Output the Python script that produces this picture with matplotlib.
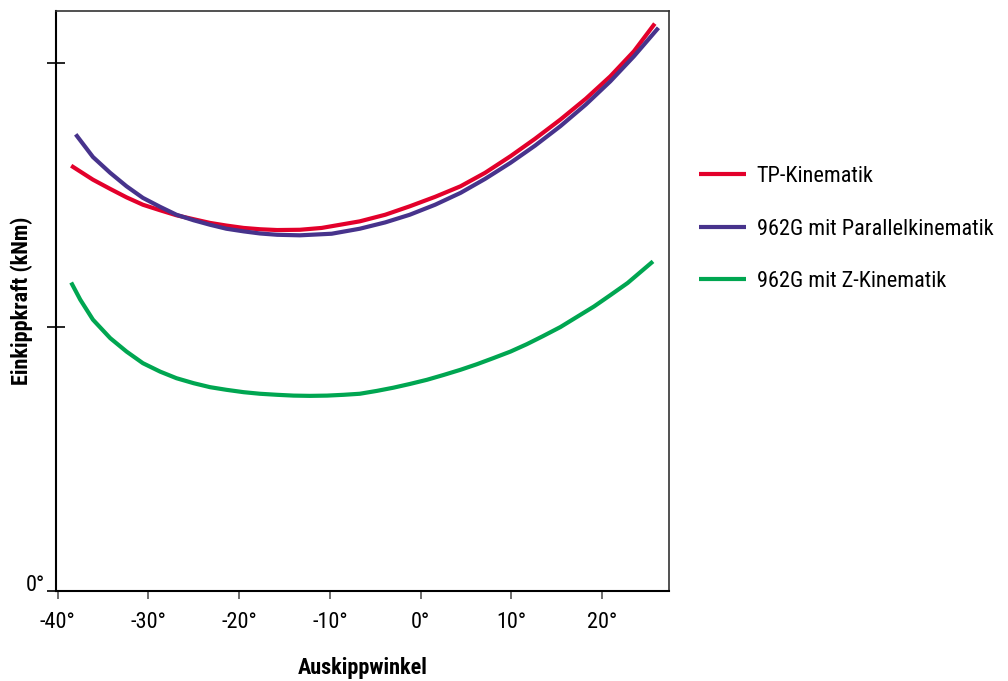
import matplotlib
matplotlib.use("Agg")
import matplotlib.pyplot as plt
from matplotlib import font_manager

# schmale Schrift suchen, wie im Original (Univers Condensed o.ae.)
installed = {}
for f in font_manager.fontManager.ttflist:
    installed.setdefault(f.name, set()).add(f.weight if isinstance(f.weight, int) else 400)
narrow = ['Roboto Condensed', 'Liberation Sans Narrow', 'Arial Narrow', 'Archivo Narrow',
          'PT Sans Narrow', 'Fira Sans Condensed', 'IBM Plex Sans Condensed',
          'Barlow Semi Condensed', 'Encode Sans Condensed', 'Asap Condensed',
          'Open Sans Condensed', 'Sofia Sans Condensed', 'Saira Condensed']
family = None
for n in narrow:
    if n in installed:
        family = n
        break
if family is None:
    family = 'DejaVu Sans'
    fs = 13.5
else:
    fs = 16
plt.rcParams['font.family'] = [family, 'DejaVu Sans']

# Werte (x: Auskippwinkel in Grad, y: Einkippkraft in Tick-Einheiten)
tp_x = [-38.5, -36.1, -34.2, -32.4, -30.6, -28.7, -26.9, -25.0, -23.2, -21.4, -19.5, -17.7,
        -15.8, -13.3, -10.9, -6.7, -3.9, -1.2, 1.6, 4.4, 7.1, 9.9, 12.6, 15.4, 18.2, 20.9,
        23.5, 25.8]
tp_y = [1.612, 1.559, 1.524, 1.492, 1.464, 1.443, 1.424, 1.409, 1.395, 1.385, 1.376, 1.371,
        1.368, 1.369, 1.376, 1.401, 1.426, 1.458, 1.494, 1.534, 1.585, 1.648, 1.714, 1.787,
        1.866, 1.951, 2.046, 2.151]

par_x = [-38.0, -36.1, -34.2, -32.4, -30.6, -28.7, -26.9, -25.0, -23.2, -21.4, -19.5, -17.7,
         -15.8, -13.3, -9.8, -6.7, -3.9, -1.2, 1.6, 4.4, 7.1, 9.9, 12.6, 15.4, 18.2, 20.9,
         23.5, 26.2]
par_y = [1.731, 1.645, 1.585, 1.534, 1.490, 1.456, 1.426, 1.405, 1.388, 1.373, 1.363, 1.355,
         1.350, 1.348, 1.354, 1.373, 1.397, 1.426, 1.464, 1.509, 1.562, 1.623, 1.688, 1.762,
         1.844, 1.932, 2.027, 2.135]

z_x = [-38.5, -37.5, -36.1, -34.2, -32.4, -30.6, -28.7, -26.9, -25.0, -23.2, -21.4, -19.5,
       -17.7, -15.8, -14.0, -12.2, -10.3, -8.5, -6.7, -4.8, -3.0, -1.2, 0.7, 2.5, 4.4, 6.2,
       8.0, 9.9, 11.7, 13.5, 15.4, 17.2, 19.1, 20.9, 22.8, 25.6]
z_y = [1.169, 1.104, 1.028, 0.958, 0.907, 0.863, 0.831, 0.806, 0.787, 0.772, 0.762, 0.753,
       0.747, 0.743, 0.740, 0.739, 0.740, 0.743, 0.747, 0.758, 0.770, 0.784, 0.800, 0.818,
       0.838, 0.859, 0.882, 0.907, 0.935, 0.966, 1.000, 1.038, 1.078, 1.121, 1.167, 1.249]

x_ticks = [-40, -30, -20, -10, 0, 10, 20]
x_labels = ['-40°', '-30°', '-20°', '-10°', '0°', '10°', '20°']
y_ticks = [0, 1, 2]
y_labels = ['0°', '', '']

fig = plt.figure(figsize=(10.08, 6.81), dpi=100)
ax = fig.add_axes([0.0553, 0.1326, 0.6087, 0.8517])

ax.plot(tp_x, tp_y, color='#E3002B', lw=3.0, solid_capstyle='butt', label='TP-Kinematik')
ax.plot(par_x, par_y, color='#47338C', lw=3.0, solid_capstyle='butt', label='962G mit Parallelkinematik')
ax.plot(z_x, z_y, color='#00A651', lw=3.0, solid_capstyle='butt', label='962G mit Z-Kinematik')

ax.set_xlim(-40.2, 27.4)
ax.set_ylim(0, 2.2)

ax.set_xticks(x_ticks)
ax.set_xticklabels(x_labels, fontsize=fs)
ax.set_yticks(y_ticks)
ax.set_yticklabels(y_labels, fontsize=fs)
for lab in ax.get_yticklabels():
    lab.set_verticalalignment('baseline')

ax.tick_params(axis='x', direction='out', length=6, width=1.2, color='#555555', pad=9)
ax.tick_params(axis='y', direction='inout', length=13, width=1.2, color='black', pad=1)

for side in ['left', 'bottom']:
    ax.spines[side].set_linewidth(1.5)
    ax.spines[side].set_color('black')
for side in ['top', 'right']:
    ax.spines[side].set_linewidth(1.2)
    ax.spines[side].set_color('#333333')

ax.set_xlabel('Auskippwinkel', fontsize=fs, fontweight='bold', va='center')
ax.set_ylabel('Einkippkraft (kNm)', fontsize=fs, fontweight='bold', va='center', ha='center')
ax.xaxis.set_label_coords(0.5, -0.133)
ax.yaxis.set_label_coords(-0.055, 0.5)

fig.legend(loc='upper left', bbox_to_anchor=(0.6935, 0.756), frameon=False,
           fontsize=fs, handlelength=2.1, handletextpad=0.5, labelspacing=1.42,
           borderpad=0, borderaxespad=0)

fig.savefig('out.png', dpi=100)
